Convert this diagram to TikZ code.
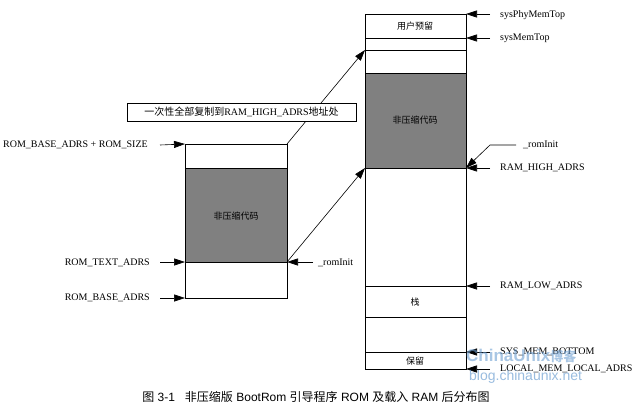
\documentclass[tikz,border=0pt]{standalone}
\usepackage{fontspec}
\setmainfont{Liberation Serif}
\newfontfamily\cjk{Noto Sans CJK SC}
\newfontfamily\capfont{Liberation Sans}
\usetikzlibrary{arrows.meta}
\definecolor{codegray}{RGB}{128,128,128}
\definecolor{wmblue}{RGB}{110,160,210}
\begin{document}
\begin{tikzpicture}[x=1pt,y=-1pt,
  lbl/.style={font=\fontsize{10}{12}\selectfont, inner sep=0pt},
  cjklbl/.style={font=\cjk\fontsize{9}{11}\selectfont, inner sep=0pt},
  arr/.style={-{Triangle[length=11pt,width=7pt]}, line width=0.6pt},
  box/.style={draw, line width=0.7pt},
  code/.style={box, fill=codegray}]
\useasboundingbox[fill=white] (0,0) rectangle (640,412);

% ROM box
\draw[box] (185,144) rectangle (287,298);
\draw[code] (185,168) rectangle (287,262);
\node[cjklbl] (romcode) at (236,216) {非压缩代码};
\coordinate (romTop) at (185,144);
\coordinate (romTopR) at (287,144);
\coordinate (romText) at (185,262);
\coordinate (romTextR) at (287,262);
\coordinate (romBase) at (185,298);

% RAM box
\draw[box] (365,14) rectangle (466,369);
\draw[box] (365,38) -- (466,38);
\draw[box] (365,50) -- (466,50);
\draw[code] (365,73) rectangle (466,168);
\draw[box] (365,286) -- (466,286);
\draw[box] (365,317) -- (466,317);
\draw[box] (365,352) -- (466,352);
\node[cjklbl] (user) at (415,26) {用户预留};
\node[cjklbl] (ramcode) at (415,120) {非压缩代码};
\node[cjklbl] (stack) at (415,302) {栈};
\node[cjklbl] (resv) at (415,361) {保留};
\coordinate (ramPhy) at (466,14);
\coordinate (ramMemTop) at (466,38);
\coordinate (ramDest) at (365,50);
\coordinate (ramHighL) at (365,168);
\coordinate (ramHigh) at (466,168);
\coordinate (ramLow) at (466,286);
\coordinate (ramBot) at (466,352);
\coordinate (ramLocal) at (466,369);

% copy arrows
\draw[arr] (romTopR) -- (ramDest);
\draw[arr] (romTextR) -- (ramHighL);
\node[draw, fill=white, line width=0.6pt, minimum width=229pt, minimum height=18pt, inner sep=0pt,
  font=\fontsize{10}{12}\selectfont] (copy) at (241.5,112)
  {{\cjk 一次性全部复制到}RAM\_HIGH\_ADRS{\cjk 地址处}};

% left labels
\node[lbl, anchor=west] (l1) at (3,145) {ROM\_BASE\_ADRS + ROM\_SIZE};
\node[lbl, anchor=east] (l2) at (150,263) {ROM\_TEXT\_ADRS};
\node[lbl, anchor=east] (l3) at (150,298) {ROM\_BASE\_ADRS};
\coordinate (t1) at (160,145);
\coordinate (t2) at (160,262);
\coordinate (t3) at (160,298);
\draw[arr] (t1) -- (romTop);
\draw[arr] (t2) -- (romText);
\draw[arr] (t3) -- (romBase);

% _romInit (ROM)
\node[lbl, anchor=west] (ri1) at (318,263) {\_romInit};
\coordinate (t4) at (313,262);
\draw[arr] (t4) -- (romTextR);

% right labels
\node[lbl, anchor=west] (r1) at (500,15) {sysPhyMemTop};
\node[lbl, anchor=west] (r2) at (500,38) {sysMemTop};
\node[lbl, anchor=west] (r3) at (523,145) {\_romInit};
\node[lbl, anchor=west] (r4) at (500,168) {RAM\_HIGH\_ADRS};
\node[lbl, anchor=west] (r5) at (500,286) {RAM\_LOW\_ADRS};
\node[lbl, anchor=west] (r6) at (500,352) {SYS\_MEM\_BOTTOM};
\node[lbl, anchor=west] (r7) at (500,369) {LOCAL\_MEM\_LOCAL\_ADRS};
\coordinate (u1) at (490,14);
\coordinate (u2) at (490,38);
\coordinate (u3a) at (516,145);
\coordinate (u3b) at (490,145);
\coordinate (u4) at (490,168);
\coordinate (u5) at (490,286);
\coordinate (u6) at (490,352);
\coordinate (u7) at (490,369);
\draw[arr] (u1) -- (ramPhy);
\draw[arr] (u2) -- (ramMemTop);
\draw[arr] (u3a) -- (u3b) -- (ramHigh);
\draw[arr] (u4) -- (ramHigh);
\draw[arr] (u5) -- (ramLow);
\draw[arr] (u6) -- (ramBot);
\draw[arr] (u7) -- (ramLocal);

% watermark
\node[inner sep=0pt, anchor=west, text=wmblue, opacity=0.6, font=\capfont\bfseries\fontsize{17}{18}\selectfont] (wm1) at (466,356) {ChinaUnix{\cjk\fontsize{13}{14}\selectfont 博客}};
\node[inner sep=0pt, anchor=west, text=wmblue, opacity=0.7, font=\capfont\fontsize{14}{15}\selectfont] (wm2) at (469,377) {blog.chinaunix.net};

% caption
\node[inner sep=0pt, font=\capfont\fontsize{12}{14}\selectfont] (cap) at (316,397)
  {{\cjk 图} 3-1\ \ \ {\cjk 非压缩版} BootRom {\cjk 引导程序} ROM {\cjk 及载入} RAM {\cjk 后分布图}};
\end{tikzpicture}
\end{document}
